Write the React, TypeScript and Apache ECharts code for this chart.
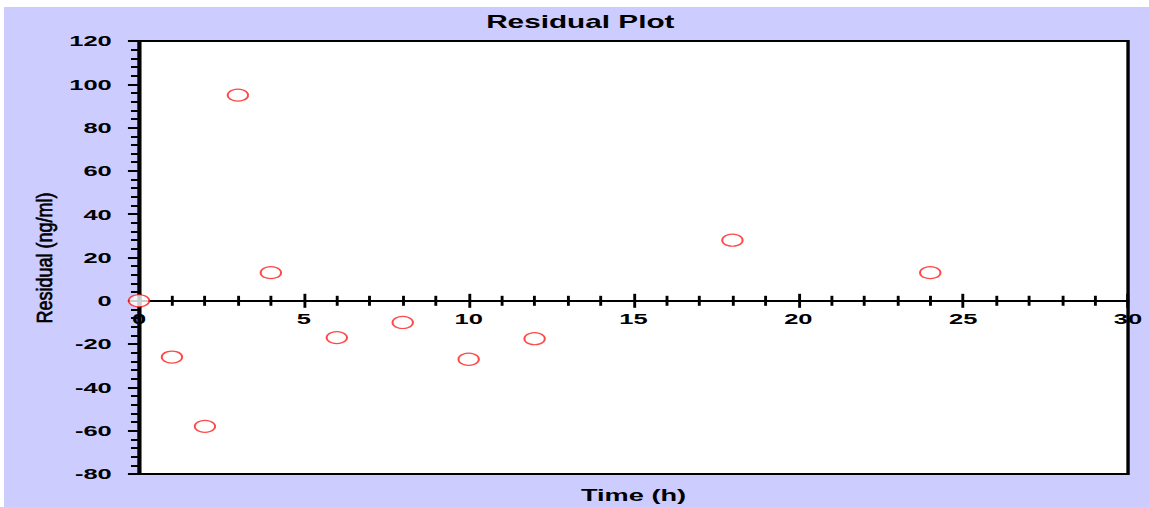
import React, { useEffect, useRef } from "react";
import * as echarts from "echarts";

// ---- data ----
const timeH = [0, 1, 2, 3, 4, 6, 8, 10, 12, 18, 24];
const residuals = [0, -26, -58, 95, 13, -17, -10, -27, -17.5, 28, 13];
const xRange = [0, 30];
const xStep = 5;
const yRange = [-80, 120];
const yStep = 20;
const titleText = "Residual Plot";
const xName = "Time (h)";
const yName = "Residual (ng/ml)";

// the original picture is stretched horizontally
const STRETCH = 1.7;
const OUT_W = 1145;
const OUT_H = 500;
const W = OUT_W / STRETCH;

const FONT = "'Liberation Sans', Arial, sans-serif";

export default function App() {
  const ref = useRef<HTMLDivElement>(null);

  useEffect(() => {
    if (!ref.current) return;
    const chart = echarts.init(ref.current, undefined, { renderer: "svg" });
    const gridLeft = 79.4;
    const gridTop = 34;
    const gridW = 581.8;
    const gridH = 433;
    // shift the x axis from the grid bottom up to y = 0
    const zeroOffset = -(gridH * (0 - yRange[0])) / (yRange[1] - yRange[0]);

    const xCommon = {
      type: "value",
      min: xRange[0],
      max: xRange[1],
      interval: xStep,
      position: "bottom",
      offset: zeroOffset,
      splitLine: { show: false },
      minorSplitLine: { show: false },
    };

    chart.setOption({
      animation: false,
      backgroundColor: "transparent",
      grid: {
        left: gridLeft,
        top: gridTop,
        width: gridW,
        height: gridH,
        show: true,
        backgroundColor: "#ffffff",
        borderColor: "#000000",
        borderWidth: 2,
      },
      xAxis: [
        {
          ...xCommon,
          axisLine: { show: true, onZero: false, lineStyle: { color: "#000", width: 2 } },
          axisTick: { show: true, inside: false, length: 7, lineStyle: { color: "#000", width: 1.7 } },
          minorTick: { show: true, splitNumber: 5, length: 5, lineStyle: { color: "#000", width: 1.7 } },
          axisLabel: {
            show: true,
            margin: 10,
            color: "#000",
            fontFamily: FONT,
            fontWeight: "bold",
            fontSize: 15,
          },
        },
        {
          ...xCommon,
          axisLine: { show: false, onZero: false },
          axisTick: { show: true, inside: true, length: 7, lineStyle: { color: "#000", width: 1.7 } },
          minorTick: { show: true, splitNumber: 5, length: 5, lineStyle: { color: "#000", width: 1.7 } },
          axisLabel: { show: false },
        },
      ],
      yAxis: {
        type: "value",
        min: yRange[0],
        max: yRange[1],
        interval: yStep,
        splitLine: { show: false },
        axisLine: { show: true, onZero: false, lineStyle: { color: "#000", width: 1.8 } },
        axisTick: { show: true, inside: false, length: 6.5, lineStyle: { color: "#000", width: 2 } },
        minorTick: { show: true, splitNumber: 5, length: 4.7, lineStyle: { color: "#000", width: 2 } },
        axisLabel: {
          margin: 16,
          color: "#000",
          fontFamily: FONT,
          fontWeight: "bold",
          fontSize: 15,
        },
      },
      graphic: [
        {
          type: "text",
          x: 339,
          y: 14.5,
          style: {
            text: titleText,
            fill: "#000",
            font: `bold 17.5px ${FONT}`,
            textAlign: "center",
            textVerticalAlign: "middle",
          },
        },
        {
          type: "text",
          x: gridLeft + gridW / 2,
          y: 489,
          style: {
            text: xName,
            fill: "#000",
            font: `bold 16px ${FONT}`,
            textAlign: "center",
            textVerticalAlign: "middle",
          },
        },
        {
          type: "text",
          x: 23.5,
          y: 251,
          rotation: Math.PI / 2,
          scaleX: 1,
          scaleY: 0.7,
          style: {
            text: yName,
            fill: "#000",
            font: `18px ${FONT}`,
            textAlign: "center",
            textVerticalAlign: "middle",
            stroke: "#000",
            lineWidth: 0.6,
          },
        },
      ],
      series: [
        {
          type: "scatter",
          xAxisIndex: 0,
          yAxisIndex: 0,
          data: timeH.map((t, i) => [t, residuals[i]]),
          symbol: "circle",
          symbolSize: 12,
          itemStyle: { color: "#ffffff", borderColor: "#ff1a1a", borderWidth: 1.2 },
          emphasis: { disabled: true },
          z: 5,
        },
      ],
    });
    return () => chart.dispose();
  }, []);

  return (
    <div
      style={{
        position: "absolute",
        left: 4,
        top: 7,
        width: W,
        height: OUT_H,
        background: "#ccccff",
        transform: `scaleX(${STRETCH})`,
        transformOrigin: "0 0",
      }}
    >
      <div ref={ref} style={{ width: W, height: OUT_H }} />
    </div>
  );
}
